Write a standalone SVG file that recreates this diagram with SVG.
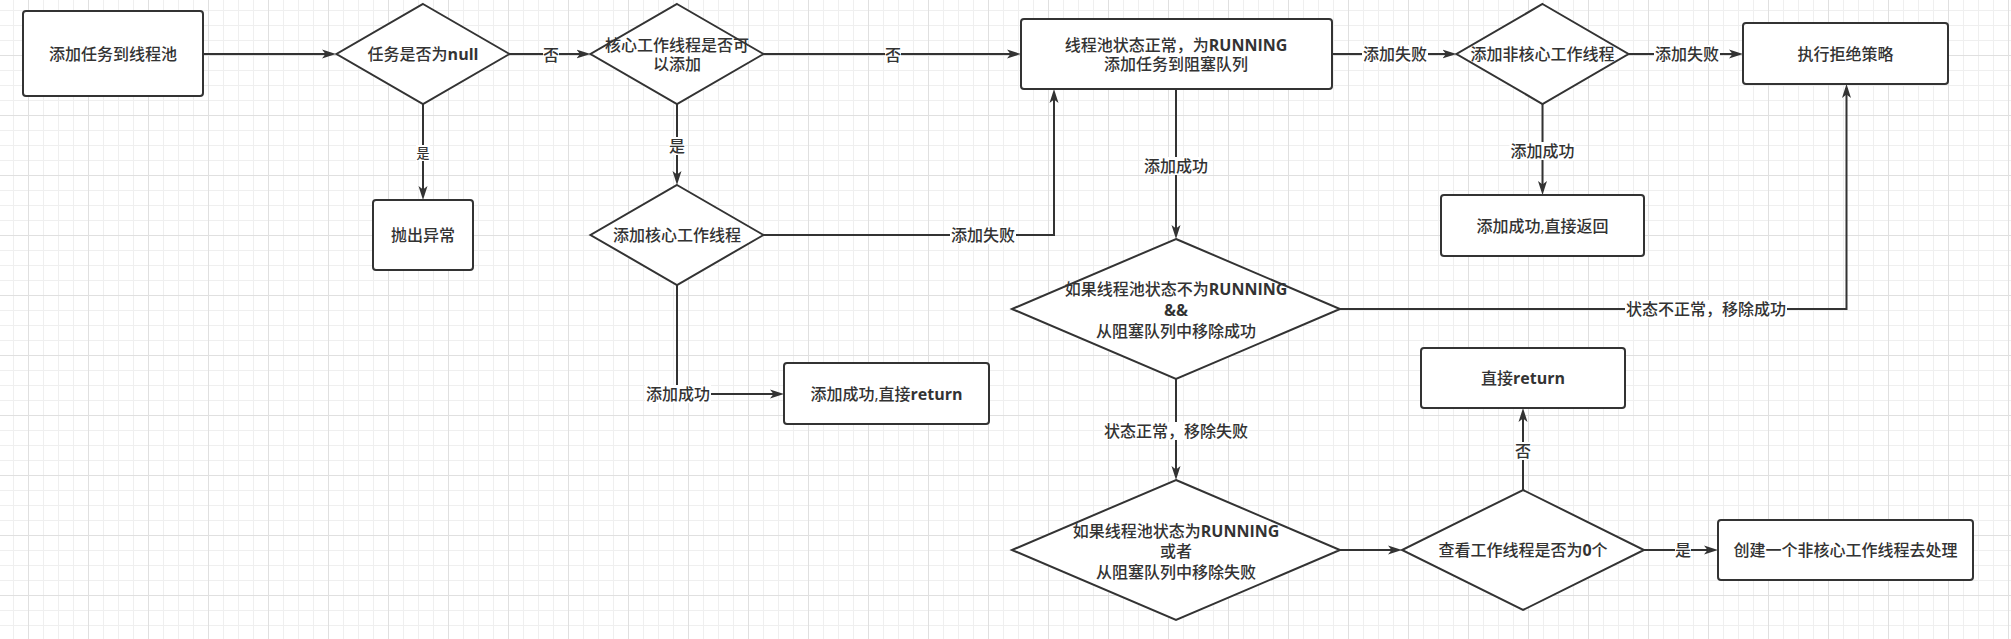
<svg xmlns="http://www.w3.org/2000/svg" width="2011" height="639" viewBox="0 0 2011 639">
<defs>
<style>
.n{fill:#fff;stroke:#333;stroke-width:2}
.t{font-family:"Open Sans","Noto Sans CJK SC",sans-serif;font-size:16px;font-weight:500;fill:#333;text-anchor:middle;dominant-baseline:central}
.b{font-weight:700}
.e{fill:none;stroke:#333;stroke-width:2;marker-end:url(#arr)}
.lb{fill:#fff}
</style>
<marker id="arr" viewBox="0 0 14 10" markerWidth="14" markerHeight="10" refX="10" refY="5" orient="auto" markerUnits="userSpaceOnUse">
<path d="M0,0.5 L14,5 L0,9.5 L3.5,5 Z" fill="#333"/>
</marker>
<pattern id="grid" x="28" y="55" width="60" height="60" patternUnits="userSpaceOnUse">
<rect width="60" height="60" fill="#fff"/>
<rect x="15" width="1" height="60" fill="#efefef"/>
<rect x="30" width="1" height="60" fill="#efefef"/>
<rect x="45" width="1" height="60" fill="#efefef"/>
<rect y="15" width="60" height="1" fill="#efefef"/>
<rect y="30" width="60" height="1" fill="#efefef"/>
<rect y="45" width="60" height="1" fill="#efefef"/>
<rect x="0" width="1" height="60" fill="#e0e0e0"/>
<rect y="0" width="60" height="1" fill="#e0e0e0"/>
</pattern>
</defs>
<rect width="2011" height="639" fill="url(#grid)"/>

<g id="connectors">
<path class="e" d="M203,54 H332"/>
<path class="e" d="M509.5,54 H586.5"/>
<path class="e" d="M423,104 V196"/>
<path class="e" d="M763.5,54 H1017"/>
<path class="e" d="M677,104 V181"/>
<path class="e" d="M763.5,235 H1054 V93"/>
<path class="e" d="M677,285 V394 H780"/>
<path class="e" d="M1332,54 H1452.5"/>
<path class="e" d="M1628.5,54 H1739"/>
<path class="e" d="M1542.5,104 V191"/>
<path class="e" d="M1176,89 V235"/>
<path class="e" d="M1340,309 H1846.5 V88"/>
<path class="e" d="M1176,379 V476"/>
<path class="e" d="M1340,550 H1398"/>
<path class="e" d="M1523,490 V412"/>
<path class="e" d="M1644,550 H1714"/>

<rect class="lb" x="543" y="46" width="16" height="18"/>
<text class="t" x="551" y="55">否</text>
<rect class="lb" x="416" y="145" width="14" height="16"/>
<text class="t" x="423" y="153" style="font-size:13px">是</text>
<rect class="lb" x="885" y="46" width="16" height="18"/>
<text class="t" x="893" y="55">否</text>
<rect class="lb" x="669" y="137" width="16" height="18"/>
<text class="t" x="677" y="146">是</text>
<rect class="lb" x="950" y="226" width="66" height="18"/>
<text class="t" x="983" y="235">添加失败</text>
<rect class="lb" x="645" y="385" width="66" height="18"/>
<text class="t" x="678" y="394">添加成功</text>
<rect class="lb" x="1362" y="45" width="66" height="18"/>
<text class="t" x="1395" y="54">添加失败</text>
<rect class="lb" x="1654" y="45" width="66" height="18"/>
<text class="t" x="1687" y="54">添加失败</text>
<rect class="lb" x="1509.5" y="142" width="66" height="18"/>
<text class="t" x="1542.5" y="151">添加成功</text>
<rect class="lb" x="1143" y="157" width="66" height="18"/>
<text class="t" x="1176" y="166">添加成功</text>
<rect class="lb" x="1625" y="300" width="162" height="18"/>
<text class="t" x="1706" y="309">状态不正常，移除成功</text>
<rect class="lb" x="1103" y="422" width="146" height="18"/>
<text class="t" x="1176" y="431">状态正常，移除失败</text>
<rect class="lb" x="1515" y="442" width="16" height="18"/>
<text class="t" x="1523" y="451">否</text>
<rect class="lb" x="1675" y="541" width="16" height="18"/>
<text class="t" x="1683" y="550">是</text>
</g>

<g id="nodeA">
<rect class="n" x="23" y="11" width="180" height="85" rx="3"/>
<text class="t" x="113" y="53.5">添加任务到线程池</text>
</g>
<g id="nodeB">
<path class="n" d="M423,4 L509.5,54 L423,104 L336.5,54 Z"/>
<text class="t" x="423" y="54">任务是否为<tspan class="b">null</tspan></text>
</g>
<g id="nodeC">
<rect class="n" x="373" y="200" width="100" height="70" rx="3"/>
<text class="t" x="423" y="235">抛出异常</text>
</g>
<g id="nodeD">
<path class="n" d="M677,4 L763.5,54 L677,104 L590.5,54 Z"/>
<text class="t" x="677" y="45">核心工作线程是否可</text>
<text class="t" x="677" y="63.5">以添加</text>
</g>
<g id="nodeE">
<path class="n" d="M677,185 L763.5,235 L677,285 L590.5,235 Z"/>
<text class="t" x="677" y="235">添加核心工作线程</text>
</g>
<g id="nodeF">
<rect class="n" x="784" y="363" width="205" height="61" rx="3"/>
<text class="t" x="886.5" y="393.5">添加成功,直接<tspan class="b">return</tspan></text>
</g>
<g id="nodeG">
<rect class="n" x="1021" y="19" width="311" height="70" rx="3"/>
<text class="t" x="1176" y="44.5">线程池状态正常，为<tspan class="b">RUNNING</tspan></text>
<text class="t" x="1176" y="63.5">添加任务到阻塞队列</text>
</g>
<g id="nodeH">
<path class="n" d="M1542.5,4 L1628.5,54 L1542.5,104 L1456.5,54 Z"/>
<text class="t" x="1542.5" y="54">添加非核心工作线程</text>
</g>
<g id="nodeI">
<rect class="n" x="1743" y="23" width="205" height="61" rx="3"/>
<text class="t" x="1845.5" y="53.5">执行拒绝策略</text>
</g>
<g id="nodeJ">
<rect class="n" x="1441" y="195" width="203" height="61" rx="3"/>
<text class="t" x="1542.5" y="225.5">添加成功,直接返回</text>
</g>
<g id="nodeK">
<path class="n" d="M1176,239 L1340,309 L1176,379 L1012,309 Z"/>
<text class="t" x="1176" y="289">如果线程池状态不为<tspan class="b">RUNNING</tspan></text>
<text class="t b" x="1176" y="310">&amp;&amp;</text>
<text class="t" x="1176" y="331">从阻塞队列中移除成功</text>
</g>
<g id="nodeL">
<rect class="n" x="1421" y="348" width="204" height="60" rx="3"/>
<text class="t" x="1523" y="378">直接<tspan class="b">return</tspan></text>
</g>
<g id="nodeM">
<path class="n" d="M1176,480 L1340,550 L1176,620 L1012,550 Z"/>
<text class="t" x="1176" y="530.5">如果线程池状态为<tspan class="b">RUNNING</tspan></text>
<text class="t" x="1176" y="551">或者</text>
<text class="t" x="1176" y="571.5">从阻塞队列中移除失败</text>
</g>
<g id="nodeN">
<path class="n" d="M1523,490 L1644,550 L1523,610 L1402,550 Z"/>
<text class="t" x="1523" y="550">查看工作线程是否为<tspan class="b">0</tspan>个</text>
</g>
<g id="nodeO">
<rect class="n" x="1718" y="520" width="255" height="60" rx="3"/>
<text class="t" x="1845.5" y="550">创建一个非核心工作线程去处理</text>
</g>
</svg>
